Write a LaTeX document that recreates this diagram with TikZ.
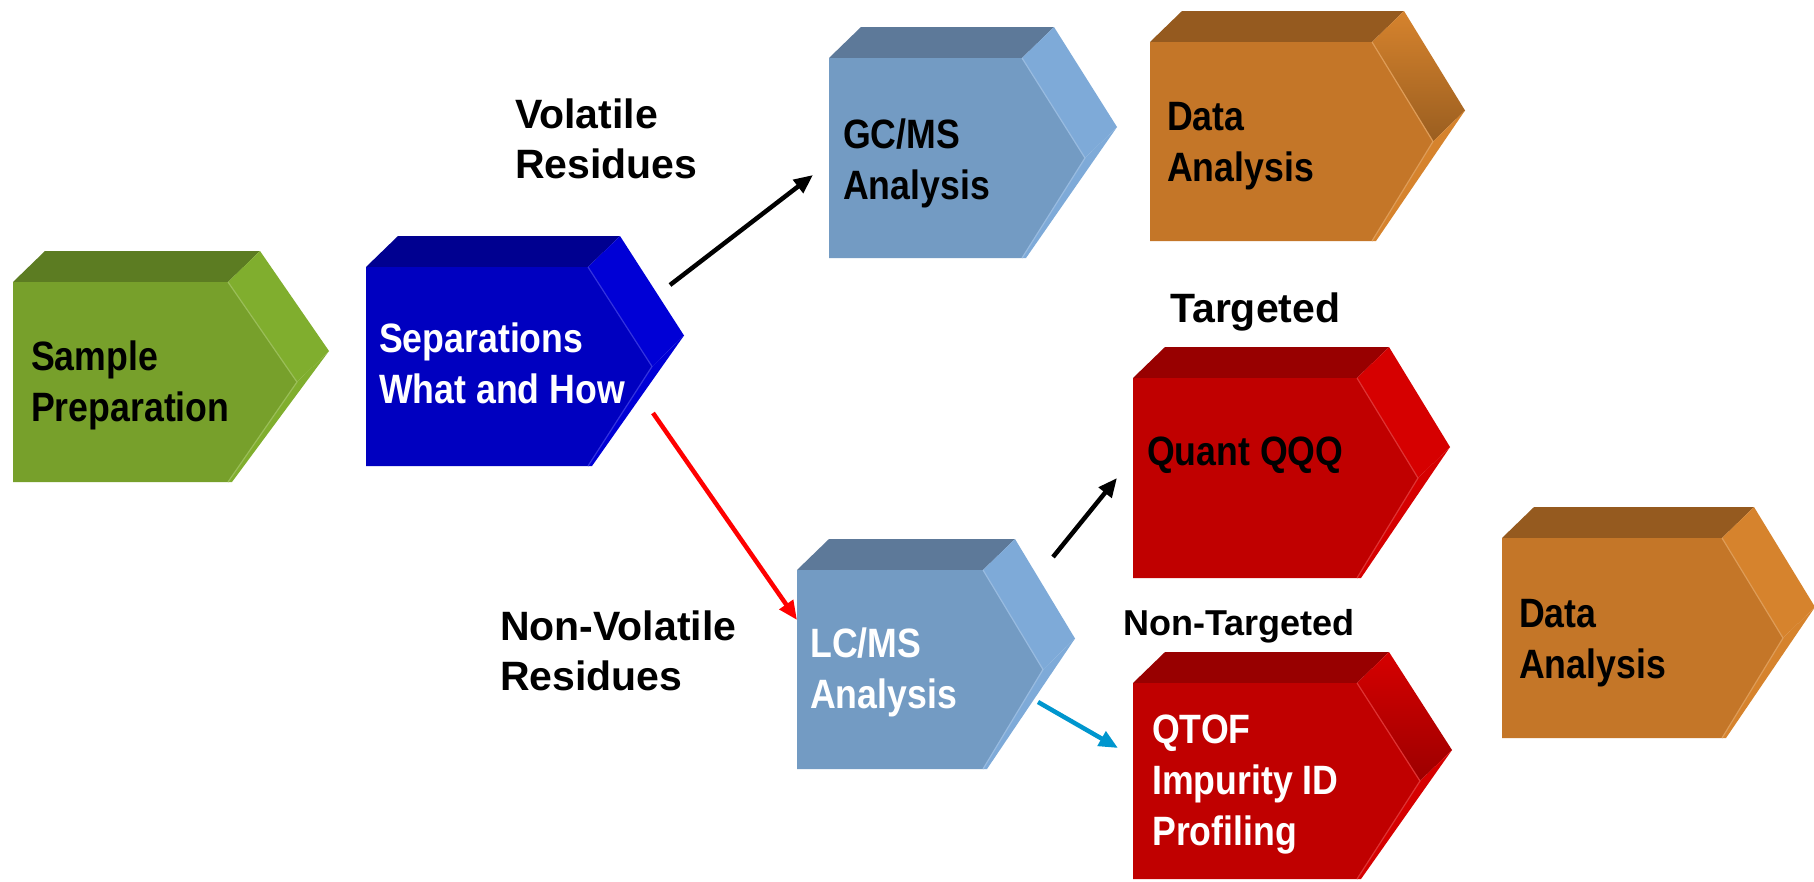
\documentclass[tikz,border=0pt]{standalone}
\usepackage{fontspec}
\setmainfont{Liberation Sans}
\newfontfamily\condfont{Liberation Sans}[FakeStretch=0.87]
\usetikzlibrary{arrows.meta}
\definecolor{gfront}{HTML}{77A02B}
\definecolor{gtop}{HTML}{5C7C22}
\definecolor{gside}{HTML}{80AE2E}
\definecolor{bfront}{HTML}{0000C0}
\definecolor{btop}{HTML}{000090}
\definecolor{bside}{HTML}{0000D6}
\definecolor{sfront}{HTML}{739BC3}
\definecolor{stop}{HTML}{5D7999}
\definecolor{sside}{HTML}{7EAAD8}
\definecolor{ofront}{HTML}{C47628}
\definecolor{otop}{HTML}{955A1F}
\definecolor{oside}{HTML}{D6832D}
\definecolor{odark}{HTML}{9A5E20}
\definecolor{rfront}{HTML}{C00000}
\definecolor{rtop}{HTML}{980000}
\definecolor{rside}{HTML}{D60000}
\definecolor{rdark}{HTML}{9C0000}
\definecolor{arrcyan}{HTML}{0096CE}
\definecolor{arrred}{HTML}{FF0000}
% #1 L, #2 T, #3 S (shoulder x), #4 P (point depth), #5 H, #6 front, #7 top, #8 upper side opts, #9 lower side
\newcommand\chevshape[9]{%
  \pgfmathsetmacro\cR{#3+#4}%
  \pgfmathsetmacro\cM{#2+#5/2}%
  \pgfmathsetmacro\cB{#2+#5}%
  \path[fill=#7] (#1,#2) -- (#1+32,#2-31) -- (#3+32,#2-31) -- (#3,#2) -- cycle;
  \path[#8] (#3,#2) -- (#3+32,#2-31) -- (\cR+32,\cM-31) -- (\cR,\cM) -- cycle;
  \path[fill=#9] (\cR,\cM) -- (\cR+32,\cM-31) -- (#3+4,\cB) -- (#3,\cB) -- cycle;
  \path[fill=#6] (#1,#2) -- (#3,#2) -- (\cR,\cM) -- (#3,\cB) -- (#1,\cB) -- cycle;
  \draw[#9!80!white, line width=1.2pt] (#3,#2) -- (\cR,\cM) -- (#3,\cB);
}
\newcommand\firstline{\rule{0pt}{40pt}}
\tikzset{
  boxtext/.style={anchor=north west, inner sep=0pt, align=left,
    font=\condfont\bfseries\fontsize{41}{51}\selectfont},
  labeltext/.style={anchor=north west, inner sep=0pt, align=left,
    font=\bfseries\fontsize{41}{50}\selectfont},
  flowarrow/.style={line width=4.5pt, -{Triangle[length=19pt,width=16pt]}},
}
\begin{document}
\begin{tikzpicture}[x=1pt,y=-1pt]
\useasboundingbox (0,0) rectangle (1814,881);
\clip (0,0) rectangle (1814,881);
\fill[white] (0,0) rectangle (1814,881);

% shapes
\chevshape{13}{282}{228}{69}{200}{gfront}{gtop}{fill=gside}{gside}
\chevshape{366}{267}{588}{64}{199}{bfront}{btop}{fill=bside}{bside}
\chevshape{829}{58}{1022}{63}{200}{sfront}{stop}{fill=sside}{sside}
\chevshape{1150}{42}{1372}{61}{199}{ofront}{otop}{top color=oside,bottom color=odark}{oside}
\chevshape{797}{570}{983}{60}{199}{sfront}{stop}{fill=sside}{sside}
\chevshape{1133}{378}{1357}{61}{200}{rfront}{rtop}{fill=rside}{rside}
\chevshape{1133}{683}{1357}{63}{196}{rfront}{rtop}{top color=rside,bottom color=rdark}{rside}
\chevshape{1502}{538}{1722}{61}{200}{ofront}{otop}{fill=oside}{oside}

% shape texts
\node[boxtext] (prep) at (31,330) {\firstline Sample\\Preparation};
\node[boxtext, text=white] (sep) at (379,312) {\firstline Separations\\What and How};
\node[boxtext] (gcms) at (843,108) {\firstline GC/MS\\Analysis};
\node[boxtext] (data1) at (1167,90) {\firstline Data\\Analysis};
\node[boxtext, text=white] (lcms) at (810,617) {\firstline LC/MS\\Analysis};
\node[boxtext] (qqq) at (1147,425) {\firstline Quant QQQ};
\node[boxtext, text=white] (qtof) at (1152,703) {\firstline QTOF\\Impurity ID\\Profiling};
\node[boxtext] (data2) at (1519,587) {\firstline Data\\Analysis};

% labels
\node[labeltext] (vol) at (515,88) {\firstline Volatile\\Residues};
\node[labeltext] (nonvol) at (500,600) {\firstline Non-Volatile\\Residues};
\node[labeltext] (targ) at (1170,282) {\firstline Targeted};
\node[labeltext, font=\bfseries\fontsize{36}{44}\selectfont] (nontarg) at (1123,595) {\firstline Non-Targeted};

% connector ends
\coordinate (a1s) at (670,285);
\coordinate (a1e) at (813,175);
\coordinate (a2s) at (653,413);
\coordinate (a2e) at (797,620);
\coordinate (a3s) at (1053,557);
\coordinate (a3e) at (1117,478);
\coordinate (a4s) at (1038,702);
\coordinate (a4e) at (1118,748);

\draw[flowarrow, black] (a1s) -- (a1e);
\draw[flowarrow, arrred] (a2s) -- (a2e);
\draw[flowarrow, black] (a3s) -- (a3e);
\draw[flowarrow, arrcyan] (a4s) -- (a4e);
\end{tikzpicture}
\end{document}
